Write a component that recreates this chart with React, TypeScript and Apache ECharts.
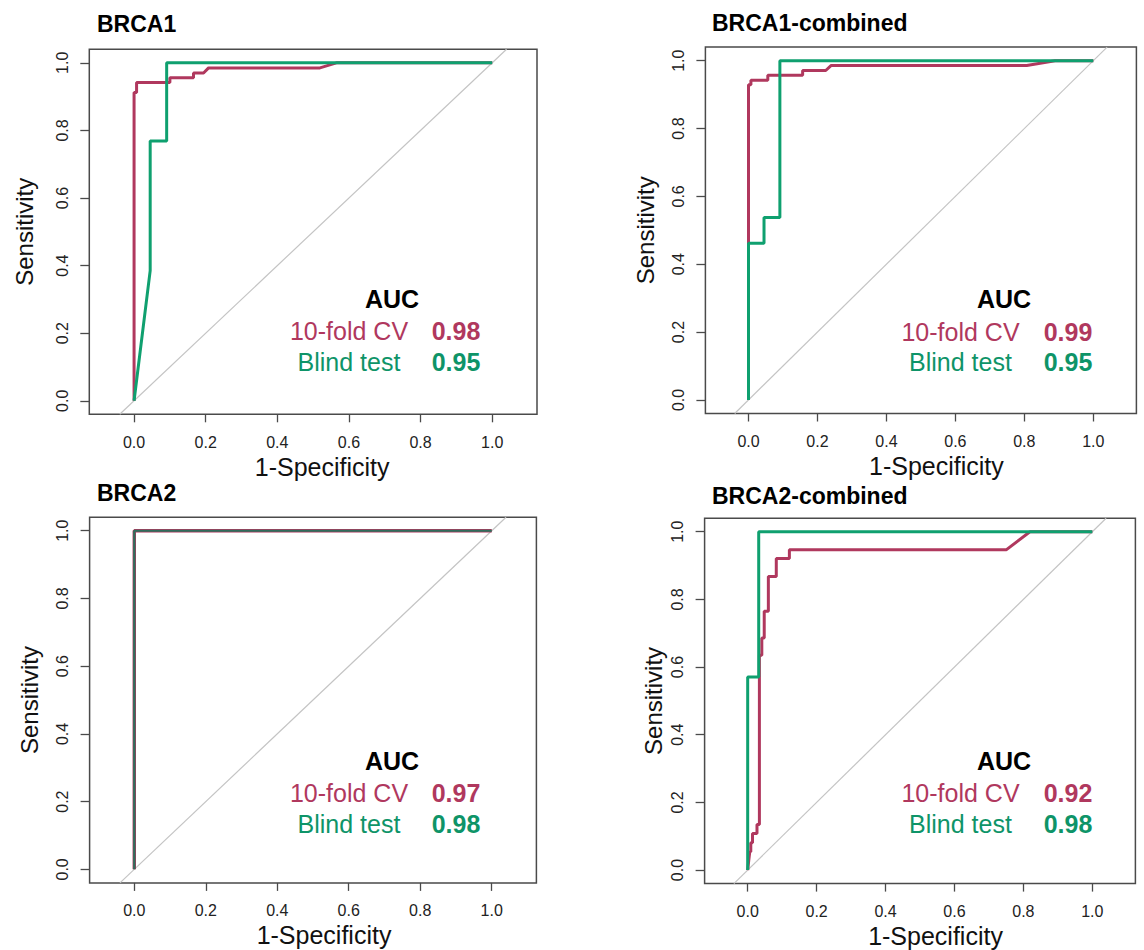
import React, { useEffect, useRef } from "react";
import * as echarts from "echarts";

// ---------------- data ----------------
const tickValues = [0, 0.2, 0.4, 0.6, 0.8, 1.0];
const panelTitles = ["BRCA1", "BRCA1-combined", "BRCA2", "BRCA2-combined"];
const methodLabels = ["10-fold CV", "Blind test"];
const aucCV = [0.98, 0.99, 0.97, 0.92];
const aucBlind = [0.95, 0.95, 0.98, 0.98];
const diagonal = [[-0.04, -0.04], [1.04, 1.04]];

const brca1CV = [
  [0, 0], [0, 0.912], [0.007, 0.912], [0.007, 0.942], [0.1, 0.942], [0.1, 0.956],
  [0.166, 0.956], [0.166, 0.97], [0.194, 0.97], [0.208, 0.985], [0.519, 0.985],
  [0.565, 1], [1, 1],
];
const brca1Blind = [
  [0, 0], [0.045, 0.385], [0.045, 0.769], [0.091, 0.769], [0.091, 1], [1, 1],
];
const brca1cCV = [
  [0, 0], [0, 0.929], [0.007, 0.929], [0.007, 0.942], [0.056, 0.942], [0.056, 0.957],
  [0.157, 0.957], [0.157, 0.971], [0.224, 0.971], [0.24, 0.986], [0.807, 0.986],
  [0.889, 1], [1, 1],
];
const brca1cBlind = [
  [0, 0], [0, 0.462], [0.045, 0.462], [0.045, 0.538], [0.091, 0.538], [0.091, 1], [1, 1],
];
const brca2CV = [[0, 0], [0, 1], [1, 1]];
const brca2Blind = [[0, 0], [0, 1], [1, 1]];
const brca2cCV = [
  [0, 0], [0.003, 0.027], [0.006, 0.054], [0.009, 0.054], [0.009, 0.081], [0.014, 0.081],
  [0.014, 0.108], [0.027, 0.108], [0.027, 0.135], [0.034, 0.135], [0.034, 0.635],
  [0.041, 0.635], [0.041, 0.686], [0.048, 0.686], [0.048, 0.765], [0.06, 0.765],
  [0.06, 0.868], [0.083, 0.868], [0.083, 0.921], [0.121, 0.921], [0.121, 0.947],
  [0.751, 0.947], [0.819, 1], [1, 1],
];
const brca2cBlind = [
  [0, 0], [0, 0.571], [0.032, 0.571], [0.032, 1], [1, 1],
];

const cvCurves = [brca1CV, brca1cCV, brca2CV, brca2cCV];
const blindCurves = [brca1Blind, brca1cBlind, brca2Blind, brca2cBlind];

// ---------------- layout / style ----------------
const FONT = "'Liberation Sans', Arial, Helvetica, sans-serif";
const RED = "#B0385E";
const GREEN = "#0FA06F";
const GREEN_TEXT = "#0E9468";

const layout = [
  { left: 89.3, top: 49.3, width: 447.7, height: 365, titleX: 97, titleY: 24, xPad: 18, yGap: 53,
    aucX: 392, aucY: 299, labX: 349, valX: 456, row1: 331, row2: 362 },
  { left: 705.4, top: 47.1, width: 431, height: 366.4, titleX: 712, titleY: 23, xPad: 31, yGap: 48,
    aucX: 1004, aucY: 299, labX: 960.5, valX: 1068, row1: 331.5, row2: 362 },
  { left: 89.6, top: 517.2, width: 446.8, height: 365.7, titleX: 97, titleY: 493, xPad: 22, yGap: 48,
    aucX: 392, aucY: 761, labX: 349, valX: 456, row1: 793, row2: 824 },
  { left: 704.6, top: 518.2, width: 430.8, height: 365.4, titleX: 712, titleY: 496, xPad: 31, yGap: 39,
    aucX: 1004, aucY: 761, labX: 960.5, valX: 1068, row1: 793, row2: 824 },
];

function buildOption() {
  const grid: any[] = [];
  const xAxis: any[] = [];
  const yAxis: any[] = [];
  const series: any[] = [];
  const graphic: any[] = [];

  layout.forEach((L, i) => {
    grid.push({
      left: L.left, top: L.top, width: L.width, height: L.height,
      show: true, borderColor: "#4a4a4a", borderWidth: 1.5, backgroundColor: "transparent",
    });
    xAxis.push({
      type: "value", gridIndex: i, min: -0.125, max: 1.125, position: "bottom",
      axisLine: { show: false, onZero: false },
      splitLine: { show: false },
      axisTick: { show: true, customValues: tickValues, length: 8, inside: false,
        lineStyle: { color: "#4a4a4a", width: 1.3 } },
      axisLabel: { customValues: tickValues, formatter: (v: number) => v.toFixed(1),
        margin: 20, fontSize: 16, color: "#222", fontFamily: FONT },
      name: "1-Specificity", nameLocation: "middle", nameGap: 40,
      nameTextStyle: { fontSize: 25, color: "#111", fontFamily: FONT, padding: [0, 0, 0, L.xPad] },
    });
    yAxis.push({
      type: "value", gridIndex: i, min: -0.04, max: 1.04, position: "left",
      axisLine: { show: false, onZero: false },
      splitLine: { show: false },
      axisTick: { show: true, customValues: tickValues, length: 9, inside: false,
        lineStyle: { color: "#4a4a4a", width: 1.3 } },
      axisLabel: { customValues: tickValues, formatter: (v: number) => v.toFixed(1),
        rotate: 90, margin: 19, fontSize: 16, color: "#222", fontFamily: FONT },
      name: "Sensitivity", nameLocation: "middle", nameGap: L.yGap,
      nameTextStyle: { fontSize: 24, color: "#111", fontFamily: FONT },
    });

    series.push({
      type: "line", xAxisIndex: i, yAxisIndex: i, data: diagonal,
      symbol: "none", silent: true, clip: true,
      lineStyle: { color: "#C4C4C4", width: 1.2 }, z: 1,
    });
    const same = i === 2;
    series.push({
      name: methodLabels[0], type: "line", xAxisIndex: i, yAxisIndex: i, data: cvCurves[i],
      symbol: "none", silent: true, clip: true,
      lineStyle: { color: RED, width: same ? 3.4 : 3 }, z: 2,
    });
    series.push({
      name: methodLabels[1], type: "line", xAxisIndex: i, yAxisIndex: i, data: blindCurves[i],
      symbol: "none", silent: true, clip: true,
      lineStyle: { color: same ? "#2E6E5C" : GREEN, width: same ? 2.2 : 3 }, z: 3,
    });

    graphic.push({
      type: "text", x: L.titleX, y: L.titleY,
      style: { text: panelTitles[i], fontSize: 23, fontWeight: "bold", fontFamily: FONT,
        fill: "#000", align: "left", verticalAlign: "middle" },
    });
    graphic.push({
      type: "text", x: L.aucX, y: L.aucY,
      style: { text: "AUC", fontSize: 25, fontWeight: "bold", fontFamily: FONT,
        fill: "#000", align: "center", verticalAlign: "middle" },
    });
    graphic.push({
      type: "text", x: L.labX, y: L.row1,
      style: { text: methodLabels[0], fontSize: 25, fontFamily: FONT,
        fill: RED, align: "center", verticalAlign: "middle" },
    });
    graphic.push({
      type: "text", x: L.valX, y: L.row1,
      style: { text: aucCV[i].toFixed(2), fontSize: 25, fontWeight: "bold", fontFamily: FONT,
        fill: RED, align: "center", verticalAlign: "middle" },
    });
    graphic.push({
      type: "text", x: L.labX, y: L.row2,
      style: { text: methodLabels[1], fontSize: 25, fontFamily: FONT,
        fill: GREEN_TEXT, align: "center", verticalAlign: "middle" },
    });
    graphic.push({
      type: "text", x: L.valX, y: L.row2,
      style: { text: aucBlind[i].toFixed(2), fontSize: 25, fontWeight: "bold", fontFamily: FONT,
        fill: GREEN_TEXT, align: "center", verticalAlign: "middle" },
    });
  });

  return {
    animation: false,
    backgroundColor: "#ffffff",
    textStyle: { fontFamily: FONT },
    grid, xAxis, yAxis, series, graphic,
  };
}

export default function App() {
  const ref = useRef<HTMLDivElement>(null);
  useEffect(() => {
    if (!ref.current) return;
    const chart = echarts.init(ref.current, undefined, { renderer: "svg" });
    chart.setOption(buildOption() as any);
    return () => chart.dispose();
  }, []);
  return (
    <div
      ref={ref}
      style={{ position: "absolute", left: 0, top: 0, width: 1144, height: 950, background: "#fff" }}
    />
  );
}
